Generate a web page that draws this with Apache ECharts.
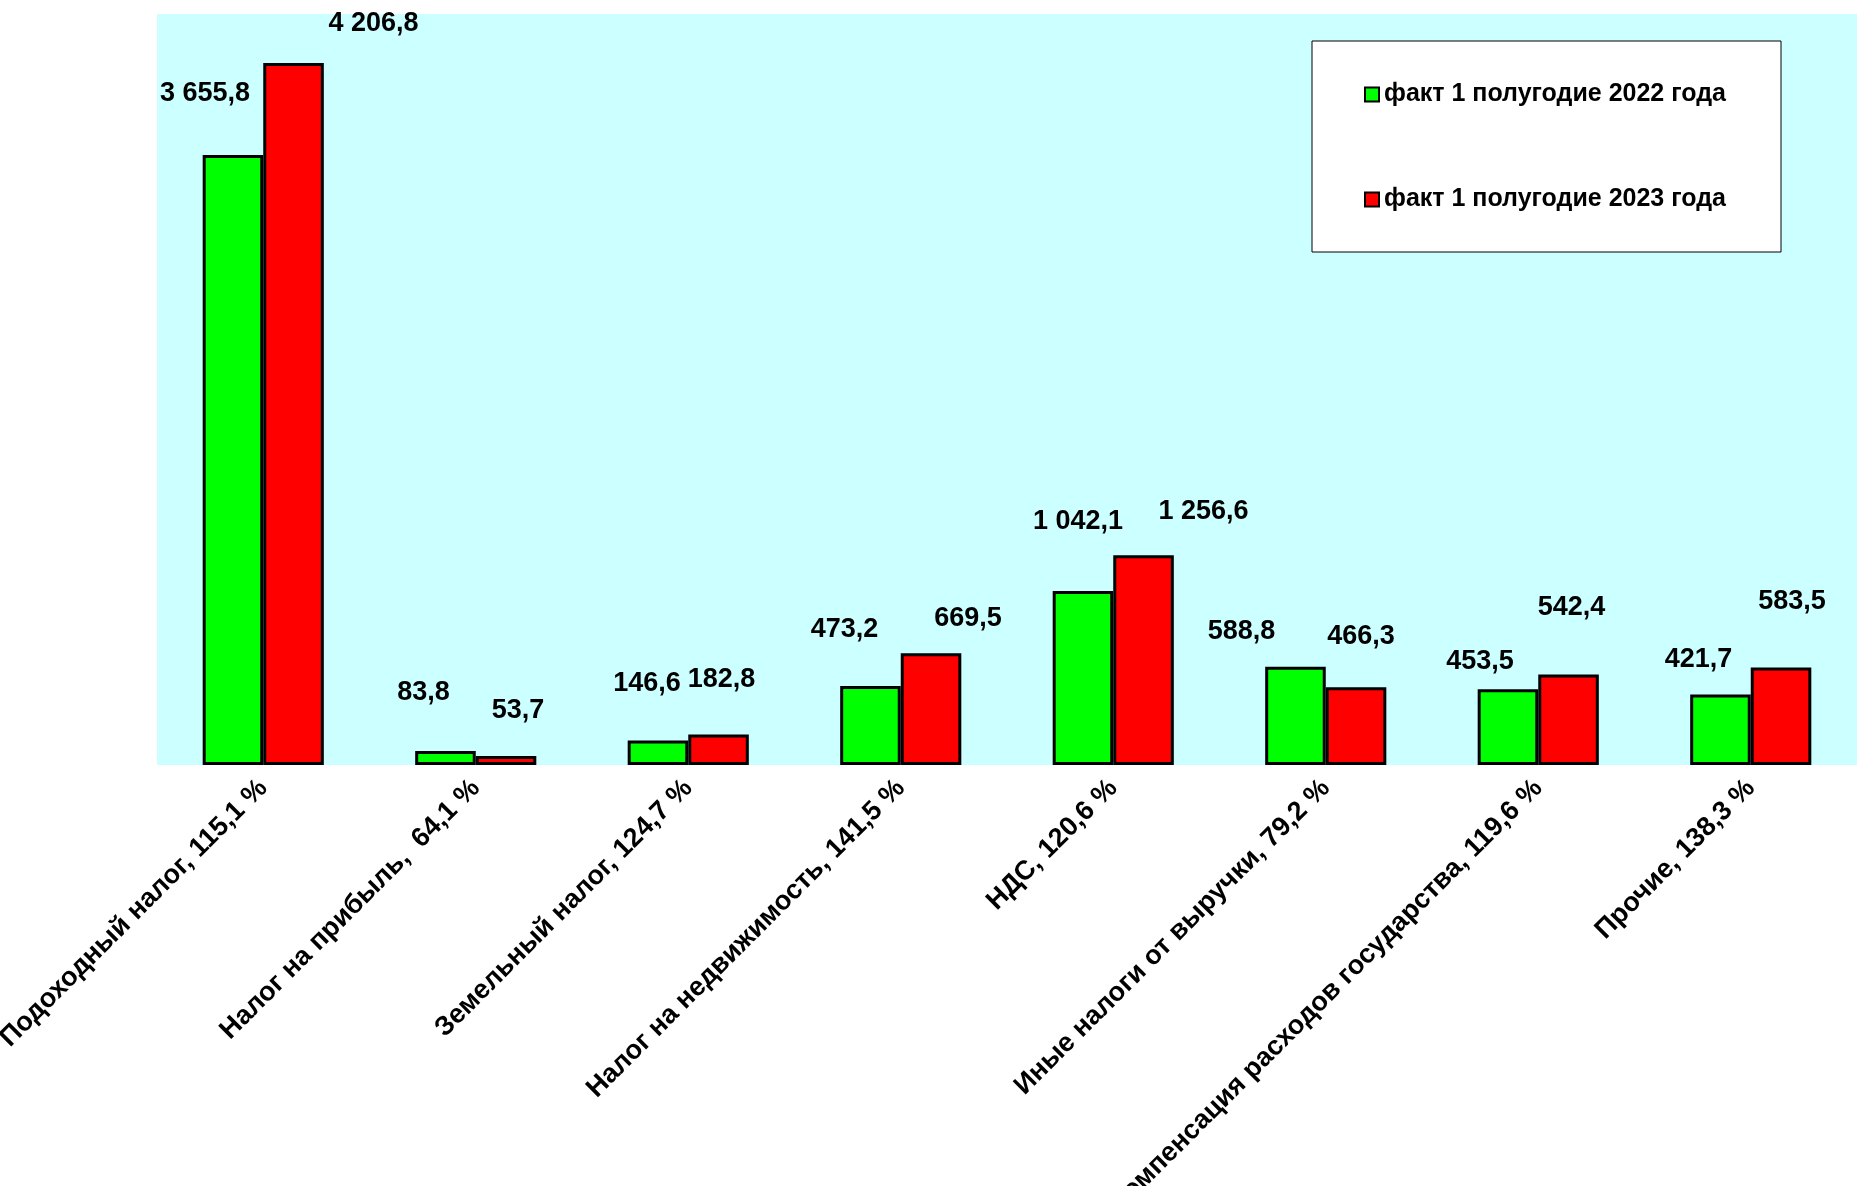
<!DOCTYPE html>
<html>
<head>
<meta charset="utf-8">
<script src="https://cdn.jsdelivr.net/npm/echarts@6/dist/echarts.min.js"></script>
<style>
html,body{margin:0;padding:0;background:#fff;}
#chart{width:1857px;height:1186px;}
</style>
</head>
<body>
<div id="chart"></div>
<script>
const categories = [
  'Подоходный налог, 115,1 %',
  'Налог на прибыль,  64,1 %',
  'Земельный налог, 124,7 %',
  'Налог на недвижимость, 141,5 %',
  'НДС, 120,6 %',
  'Иные налоги от выручки, 79,2 %',
  'Компенсация расходов государства, 119,6 %',
  'Прочие, 138,3 %'
];
const seriesNames = ['факт 1 полугодие 2022 года', 'факт 1 полугодие 2023 года'];
const values2022 = [3655.8, 83.8, 146.6, 473.2, 1042.1, 588.8, 453.5, 421.7];
const values2023 = [4206.8, 53.7, 182.8, 669.5, 1256.6, 466.3, 542.4, 583.5];

// label placement tweaks (layout only, relative to bar tops)
const labelOffsets2022 = [[-28,-48],[-22,-45],[-11,-44],[-26,-43],[-5,-57],[-54,-22],[-28,-15],[-22,-22]];
const labelOffsets2023 = [[80,-26],[12,-32],[3,-42],[37,-22],[60,-31],[5,-38],[3,-54],[11,-53]];

function fmt(v){
  const s = v.toFixed(1).split('.');
  const intPart = s[0].replace(/\B(?=(\d{3})+(?!\d))/g, ' ');
  return intPart + ',' + s[1];
}

const FONT = 'Arial, "Liberation Sans", sans-serif';

function makeData(vals, offs){
  return vals.map((v, i) => ({
    value: v,
    label: { offset: offs[i] }
  }));
}

const chart = echarts.init(document.getElementById('chart'), null, {renderer:'canvas'});
chart.setOption({
  animation: false,
  backgroundColor: '#ffffff',
  grid: {
    left: 157, right: 0, top: 14, bottom: 421,
    containLabel: false,
    outerBoundsMode: 'none',
    show: true, backgroundColor: '#CCFFFF', borderWidth: 0
  },
  legend: {
    orient: 'vertical',
    left: 1312, top: 41,
    padding: [41, 55, 40, 52],
    itemGap: 80,
    itemWidth: 14, itemHeight: 14,
    icon: 'rect',
    backgroundColor: '#ffffff',
    borderColor: '#000000',
    borderWidth: 1,
    textStyle: { fontFamily: FONT, fontWeight: 'bold', fontSize: 25, color: '#000', lineHeight: 25 },
    itemStyle: { borderColor: '#000', borderWidth: 2 },
    data: seriesNames
  },
  xAxis: {
    type: 'category',
    data: categories,
    axisLine: { show: false },
    axisTick: { show: false },
    splitLine: { show: false },
    axisLabel: {
      interval: 0, rotate: 45, margin: 19,
      fontFamily: FONT, fontWeight: 'bold', fontSize: 27, color: '#000'
    }
  },
  yAxis: {
    type: 'value', min: 0, max: 4500, interval: 500,
    show: false,
    splitLine: { show: false }
  },
  series: [
    {
      name: seriesNames[0], type: 'bar',
      barGap: '0%', barCategoryGap: '43%',
      itemStyle: { color: '#00FF00', borderColor: '#000', borderWidth: 3 },
      label: {
        show: true, position: 'top', distance: 0,
        fontFamily: FONT, fontWeight: 'bold', fontSize: 27, lineHeight: 26, color: '#000',
        formatter: p => fmt(p.value)
      },
      data: makeData(values2022, labelOffsets2022)
    },
    {
      name: seriesNames[1], type: 'bar',
      barGap: '0%', barCategoryGap: '43%',
      itemStyle: { color: '#FF0000', borderColor: '#000', borderWidth: 3 },
      label: {
        show: true, position: 'top', distance: 0,
        fontFamily: FONT, fontWeight: 'bold', fontSize: 27, lineHeight: 26, color: '#000',
        formatter: p => fmt(p.value)
      },
      data: makeData(values2023, labelOffsets2023)
    }
  ]
});
</script>
</body>
</html>
